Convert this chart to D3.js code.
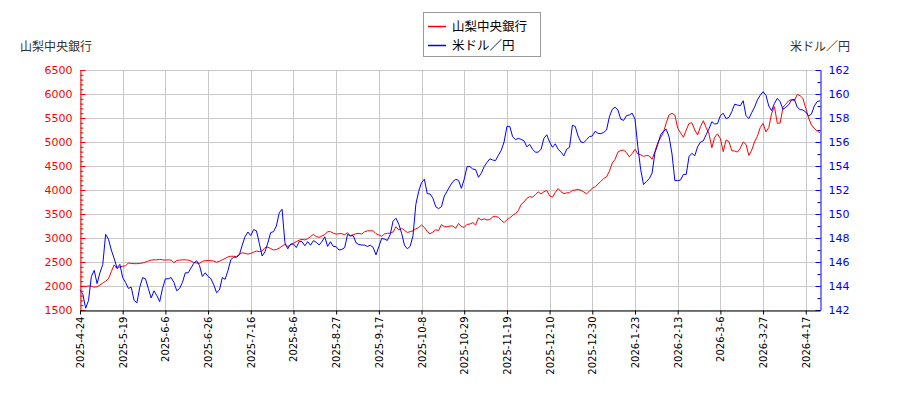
<!DOCTYPE html>
<html>
<head>
<meta charset="utf-8">
<script src="https://cdn.jsdelivr.net/npm/d3@7"></script>
<style>
  body { margin: 0; background: #fff; }
  svg text { font-family: "DejaVu Sans", "Noto Sans CJK JP", sans-serif; }
</style>
</head>
<body>
<div id="chart"></div>
<script>
// 山梨中央銀行 株価 (円)
const bankPrice = [
  1990,1995,1990,2000,1995,1975,1985,2020,2060,2100,2150,2300,2440,2360,2400,2410,2420,2480,2470,2465,
  2465,2470,2480,2500,2520,2540,2545,2545,2555,2545,2540,2545,2540,2486,2530,2540,2545,2545,2540,2520,
  2490,2480,2472,2515,2528,2530,2528,2520,2495,2515,2545,2575,2605,2620,2620,2615,2660,2692,2680,2665,
  2680,2705,2729,2715,2730,2800,2810,2780,2750,2760,2790,2830,2868,2820,2860,2889,2924,2955,2970,2960,
  2985,3030,3076,3030,3014,3042,3070,3132,3132,3100,3080,3090,3090,3068,3110,3050,3070,3090,3097,3083,
  3130,3150,3150,3150,3090,3063,3035,3085,3097,3100,3125,3236,3167,3201,3160,3115,3132,3150,3190,3220,
  3270,3220,3135,3085,3125,3170,3155,3280,3236,3236,3250,3250,3201,3306,3235,3222,3285,3290,3320,3271,
  3420,3375,3400,3375,3385,3440,3450,3430,3370,3320,3380,3420,3470,3510,3570,3700,3750,3826,3861,3850,
  3900,3960,3920,3965,3990,3880,3850,3950,4030,3965,3925,3940,3944,3990,4000,4010,3995,3960,3920,3979,
  4035,4070,4120,4180,4240,4275,4390,4560,4640,4790,4825,4830,4780,4690,4760,4850,4750,4735,4700,4720,
  4710,4640,4800,4986,5090,5200,5400,5570,5597,5560,5290,5190,5100,5250,5389,5400,5250,5146,5319,5444,
  5300,5170,4880,5100,5170,5070,4799,5042,5010,4819,4813,4790,4870,5000,4950,4720,4833,5000,5120,5300,
  5389,5210,5300,5597,5736,5390,5395,5722,5790,5860,5885,5861,5990,5965,5910,5700,5500,5354,5285,5230,
  5194
];

// 米ドル／円
const usdJpy = [
  143.7,143.3,142.15,142.8,144.8,145.3,144.2,145.1,145.8,148.3,147.9,147.0,146.3,145.5,145.8,144.7,144.3,143.8,143.9,142.8,
  142.6,143.9,144.7,144.6,143.8,143.0,143.6,143.2,142.7,143.8,144.6,144.6,144.7,144.3,143.6,143.8,144.3,145.1,145.1,145.5,
  145.9,146.1,145.7,144.8,145.1,144.8,144.6,144.1,143.44,143.67,144.7,144.56,145.3,146.2,146.4,146.4,146.6,147.4,148.11,148.5,
  148.2,148.7,148.6,147.56,146.5,146.86,147.6,148.45,148.53,149.0,150.1,150.4,147.6,147.1,147.5,147.5,147.2,147.7,147.7,147.35,
  147.7,147.4,147.78,147.65,147.42,147.7,148.1,147.3,147.69,147.3,147.28,147.0,147.05,147.2,148.3,148.17,148.2,147.6,147.45,147.42,
  147.4,147.3,147.4,147.22,146.6,147.28,147.97,147.9,147.8,148.3,149.4,149.65,149.15,148.4,147.4,147.1,147.3,148.2,150.8,151.9,
  152.61,152.9,151.7,151.67,151.31,150.6,150.45,150.61,151.5,151.9,152.33,152.7,152.89,152.8,152.14,152.9,153.95,153.95,153.75,153.7,
  153.06,153.4,153.94,154.3,154.6,154.5,154.45,154.9,155.3,156.0,157.3,157.3,156.44,156.2,156.3,156.22,156.1,155.6,155.8,155.4,
  155.15,155.15,155.4,156.3,156.6,156.0,155.56,155.85,155.4,155.15,154.85,155.4,155.56,157.4,157.3,156.5,156.0,155.95,156.2,156.45,
  156.5,156.9,156.72,156.7,156.8,157.0,158.1,158.72,158.9,158.67,157.9,157.8,158.2,158.25,158.4,157.9,155.6,153.7,152.45,152.7,
  152.95,153.4,155.1,155.8,156.6,156.9,157.06,156.4,155.0,152.78,152.78,152.83,153.3,153.3,154.8,155.06,154.85,155.61,155.99,156.1,
  156.6,157.1,157.69,157.5,157.53,158.2,158.39,157.95,158.05,158.53,159.15,159.08,159.02,159.44,158.2,157.95,158.44,158.9,159.5,159.9,
  160.19,159.9,159.0,158.61,159.22,159.64,159.36,158.72,158.9,159.1,159.5,159.56,158.9,158.7,158.67,158.5,158.17,158.33,159.0,159.36,
  159.44
];

// 目盛ラベル (15営業日ごと)
const dateTicks = [
  "2025-4-24","2025-5-19","2025-6-6","2025-6-26","2025-7-16","2025-8-6","2025-8-27","2025-9-17","2025-10-8",
  "2025-10-29","2025-11-19","2025-12-10","2025-12-30","2026-1-23","2026-2-13","2026-3-6","2026-3-27","2026-4-17"
];
const tickStep = 15;

const seriesNames = ["山梨中央銀行", "米ドル／円"];
const leftTicks = [1500, 2000, 2500, 3000, 3500, 4000, 4500, 5000, 5500, 6000, 6500];
const rightTicks = [142, 144, 146, 148, 150, 152, 154, 156, 158, 160, 162];

const width = 900, height = 400;
const plotL = 80, plotR = 820, plotT = 70, plotB = 310;

const svg = d3.select("#chart").append("svg")
  .attr("width", width)
  .attr("height", height);

const n = bankPrice.length;
const x = d3.scaleLinear().domain([0, n - 1]).range([plotL, plotR]);
const yL = d3.scaleLinear().domain([1500, 6500]).range([plotB, plotT]);
const yR = d3.scaleLinear().domain([142, 162]).range([plotB, plotT]);

const tickIdx = dateTicks.map((d, i) => i * tickStep);

// グリッド
const grid = svg.append("g").attr("stroke", "#c8c8c8").attr("stroke-width", 1);
grid.selectAll(".gx").data(tickIdx).enter().append("line")
  .attr("x1", d => Math.round(x(d)) + 0.5).attr("x2", d => Math.round(x(d)) + 0.5)
  .attr("y1", plotT).attr("y2", plotB);
grid.selectAll(".gy").data(leftTicks).enter().append("line")
  .attr("x1", plotL).attr("x2", plotR)
  .attr("y1", d => Math.round(yL(d)) + 0.5).attr("y2", d => Math.round(yL(d)) + 0.5);

// 線
const lineL = d3.line().x((d, i) => x(i)).y(d => yL(d));
const lineR = d3.line().x((d, i) => x(i)).y(d => yR(d));

svg.append("path").datum(bankPrice)
  .attr("d", lineL).attr("fill", "none").attr("stroke", "#ff0000").attr("stroke-width", 1);
svg.append("path").datum(usdJpy)
  .attr("d", lineR).attr("fill", "none").attr("stroke", "#0000ff").attr("stroke-width", 1);

// 左軸
const axL = svg.append("g").attr("transform", `translate(${plotL + 0.5},0)`)
  .call(d3.axisLeft(yL).tickValues(leftTicks).tickFormat(d3.format("d"))
    .tickSizeInner(-5).tickSizeOuter(0).tickPadding(8));
const axLm = svg.append("g").attr("transform", `translate(${plotL + 0.5},0)`)
  .call(d3.axisLeft(yL).tickValues(d3.range(1500, 6501, 100)).tickSizeInner(-3).tickSizeOuter(0).tickFormat(""));
axLm.select(".domain").remove();

// 右軸
const axR = svg.append("g").attr("transform", `translate(${plotR + 0.5},0)`)
  .call(d3.axisRight(yR).tickValues(rightTicks).tickFormat(d3.format("d"))
    .tickSizeInner(-5).tickSizeOuter(0).tickPadding(8));
const axRm = svg.append("g").attr("transform", `translate(${plotR + 0.5},0)`)
  .call(d3.axisRight(yR).tickValues(d3.range(142, 162.1, 1)).tickSizeInner(-3).tickSizeOuter(0).tickFormat(""));
axRm.select(".domain").remove();

[axL, axLm].forEach(g => {
  g.selectAll("path, line").attr("stroke", "#ff0000");
  g.selectAll("text").attr("fill", "#ff0000").style("font-size", "11px");
});
[axR, axRm].forEach(g => {
  g.selectAll("path, line").attr("stroke", "#0000ff");
  g.selectAll("text").attr("fill", "#0000ff").style("font-size", "11px");
});

// 下軸
const axB = svg.append("g").attr("transform", `translate(0,${plotB + 0.5})`)
  .call(d3.axisBottom(x).tickValues(tickIdx).tickSizeInner(4).tickSizeOuter(0)
    .tickFormat((d, i) => dateTicks[i]));
axB.selectAll("path, line").attr("stroke", "#000");
axB.selectAll("text")
  .attr("fill", "#000")
  .style("font-size", "10px")
  .attr("text-anchor", "end")
  .attr("transform", "rotate(-90)")
  .attr("x", -6)
  .attr("y", 0)
  .attr("dy", "0.35em");

// 軸タイトル
svg.append("text").attr("x", 20).attr("y", 51)
  .style("font-size", "12px").attr("fill", "#333").text(seriesNames[0]);
svg.append("text").attr("x", 850).attr("y", 51).attr("text-anchor", "end")
  .style("font-size", "12px").attr("fill", "#333").text(seriesNames[1]);

// 凡例
const lg = svg.append("g");
lg.append("rect").attr("x", 423.5).attr("y", 12.5).attr("width", 117).attr("height", 44)
  .attr("fill", "#fff").attr("stroke", "#999");
const colors = ["#ff0000", "#0000ff"];
seriesNames.forEach((name, i) => {
  const yy = 26 + i * 19;
  lg.append("line").attr("x1", 428).attr("x2", 446).attr("y1", yy + 0.5).attr("y2", yy + 0.5)
    .attr("stroke", colors[i]).attr("stroke-width", 1.5);
  lg.append("text").attr("x", 452).attr("y", yy + 4.5)
    .style("font-size", "12.5px").attr("fill", "#000").text(name);
});
</script>
</body>
</html>
